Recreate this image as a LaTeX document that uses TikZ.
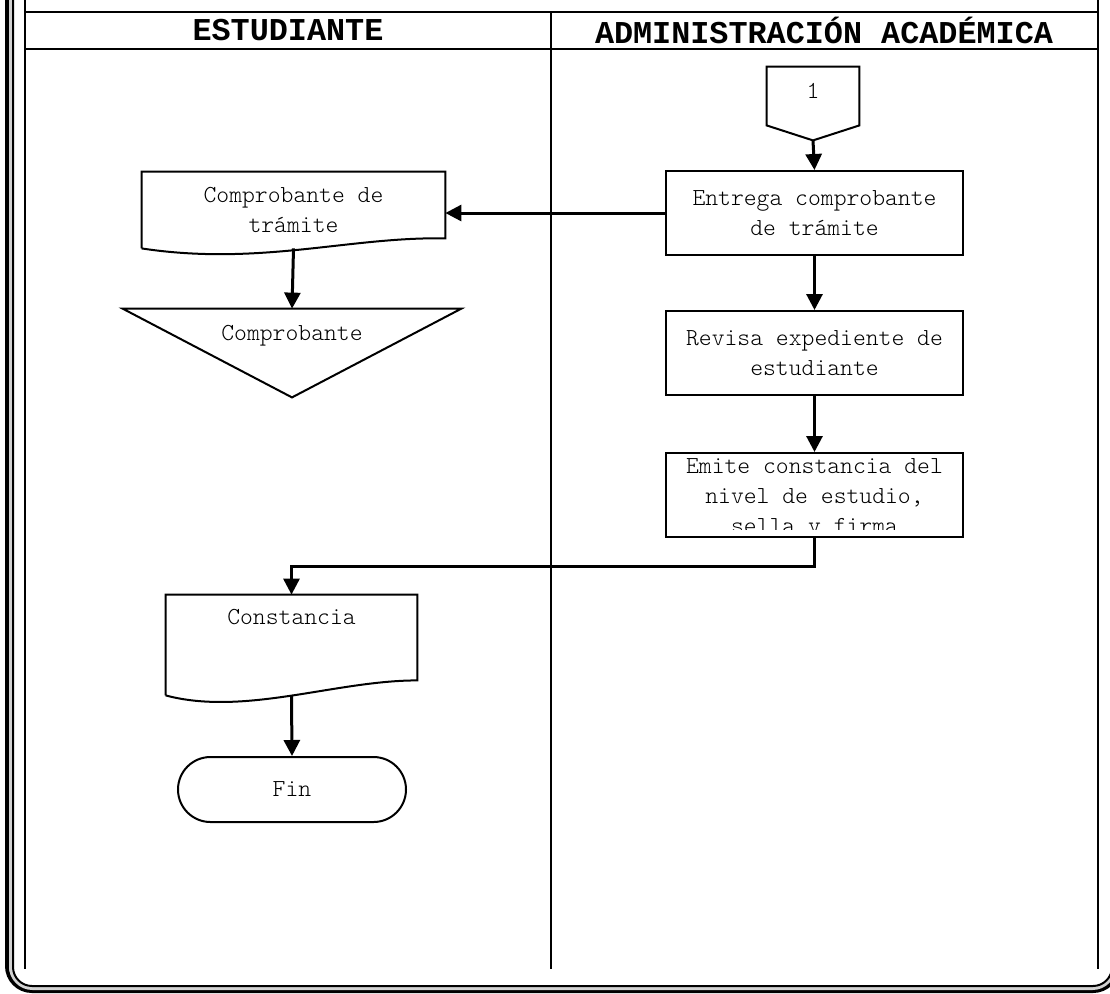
\documentclass[tikz,border=0pt]{standalone}
\usepackage{fontspec}
\newfontfamily\monofont{Liberation Mono}
\newfontfamily\lightmono{Latin Modern Mono Light}
\usetikzlibrary{arrows.meta,calc,shapes.misc}

\begin{document}
\begin{tikzpicture}[x=0.5pt,y=-0.5pt,
    lane/.style={line width=1pt},
    box/.style={draw,line width=1pt,minimum width=148.5pt,minimum height=42pt,
      align=center,inner sep=1pt,font=\lightmono\fontsize{12.23}{15}\selectfont},
    shapetxt/.style={align=center,inner sep=0pt,font=\lightmono\fontsize{12.23}{15}\selectfont},
    outline/.style={line width=1pt},
    flow/.style={line width=1.5pt,-{Triangle[length=8pt,width=8pt]}},
    head/.style={font=\monofont\bfseries\fontsize{15.9}{18}\selectfont}]
  \useasboundingbox (0,0) rectangle (1110,993);
  \clip (0,0) rectangle (1110,993);
  % sheet frame
  \draw[line width=2pt,rounded corners=12.5pt] (7,-5) -- (7,991) -- (1118,991) -- (1118,-5);
  \draw[line width=1.5pt,gray!35,rounded corners=11pt] (10.5,-5) -- (10.5,988.5) -- (1114.5,988.5) -- (1114.5,-5);
  \draw[line width=1pt,rounded corners=9.5pt] (13,-5) -- (13,986) -- (1112,986) -- (1112,-5);
  % swimlanes
  \draw[lane] (25,0) -- (25,969);
  \draw[lane] (1098,0) -- (1098,969);
  \draw[lane] (551,12) -- (551,969);
  \draw[lane] (25,12) -- (1098,12);
  \draw[lane] (25,49) -- (1098,49);
  \node[head] (est) at (288,30) {ESTUDIANTE};
  \node[head] (adm) at (824,30) {ADMINISTRACIÓN ACADÉMICA};

  % off-page connector
  \node[shapetxt,minimum width=46pt,minimum height=29pt,text depth=5pt] (conn) at (813,96) {1};
  \coordinate (conntip) at ($(conn.south)+(0,15)$);
  \draw[outline] (conn.north west) -- (conn.north east) -- (conn.south east)
    -- (conntip) -- (conn.south west) -- cycle;

  \node[box] (entrega) at (814.5,213) {Entrega comprobante\\de trámite};
  \node[box] (revisa) at (814.5,353) {Revisa expediente de\\estudiante};
  \node[box] (emite) at (814.5,495) {};
  % last line runs past the text area and is cut off
  \begin{scope}
    \clip (emite.north west) rectangle ($(emite.south east)+(-2,-9)$);
    \node[shapetxt] (emitetxt) at ($(emite.center)+(0,4)$) {Emite constancia del\\nivel de estudio,\\sella y firma};
  \end{scope}

  % documents
  \node[shapetxt,minimum width=151.5pt,minimum height=38pt] (ctram) at (293.5,210) {Comprobante de\\trámite};
  \draw[outline] (ctram.south west) -- (ctram.north west) -- (ctram.north east)
    -- ($(ctram.south east)+(0,-10)$) .. controls +(-95,-2) and +(118,18) .. (ctram.south west);
  \node[shapetxt,minimum width=125.5pt,minimum height=50pt,text depth=28pt] (const) at (291.5,645) {Constancia};
  \draw[outline] (const.south west) -- (const.north west) -- (const.north east)
    -- ($(const.south east)+(0,-15)$) .. controls +(-82,0) and +(79,21) .. (const.south west);

  % archive
  \node[shapetxt,minimum width=169pt,minimum height=44pt,text depth=20pt] (arch) at (292,353) {Comprobante};
  \draw[outline] (arch.north west) -- (arch.north east) -- (arch.south) -- cycle;

  \node[shapetxt,draw,line width=1pt,rounded rectangle,minimum width=114pt,minimum height=32.5pt] (fin) at (292,789.5) {Fin};

  \foreach \a/\b in {conntip/entrega.north,entrega.south/revisa.north,revisa.south/emite.north} {
    \draw[flow] (\a) -- (\b);
  }
  \draw[flow] (entrega.west) -- (entrega.west -| ctram.east);
  \draw[flow] (ctram.south) -- (arch.north);
  \draw[flow] (emite.south) -- ++(0,28) -| (const.north);
  \draw[flow] (const.south) -- (fin.north);
\end{tikzpicture}
\end{document}
